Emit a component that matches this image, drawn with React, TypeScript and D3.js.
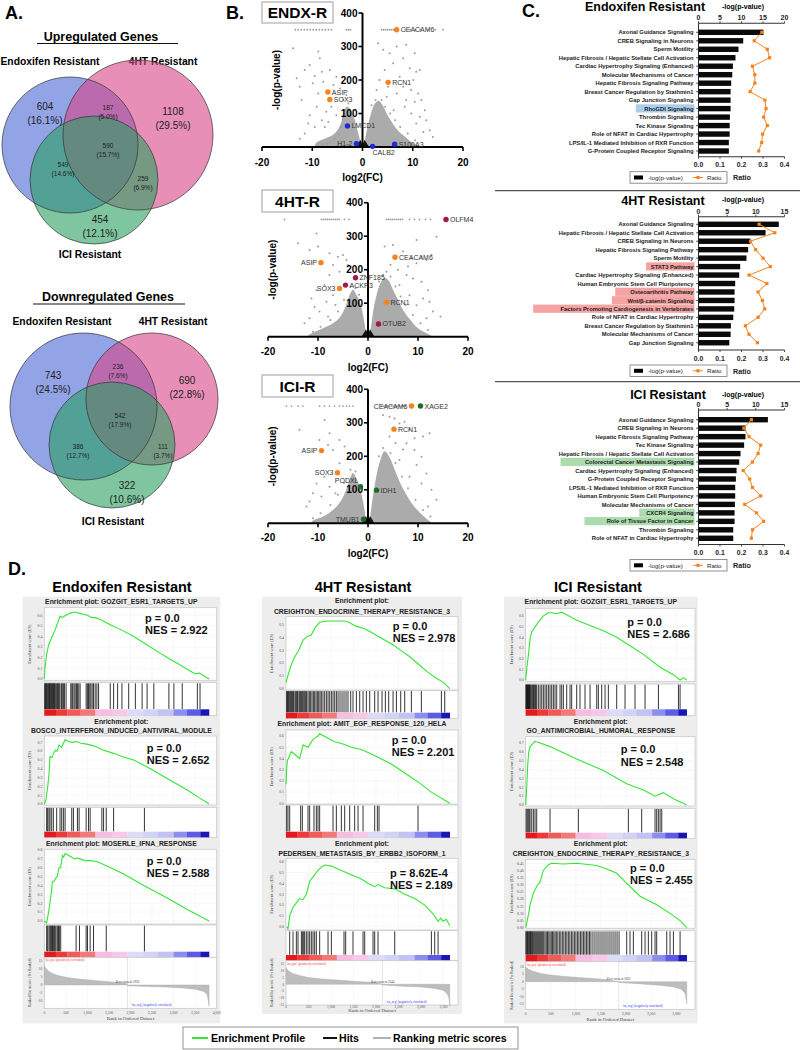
import React from "react";
import * as d3 from "d3";

const SANS = "'Liberation Sans', Arial, Helvetica, sans-serif";
const SERIF = "'Liberation Serif', 'Times New Roman', serif";

/* ================= Panel A : Venn data ================= */
const vennSetNames = ["Endoxifen Resistant", "4HT Resistant", "ICI Resistant"];
const upTitle = "Upregulated Genes";
const downTitle = "Downregulated Genes";
// order: E only, E∩4HT, 4HT only, E∩ICI, all three, 4HT∩ICI, ICI only
const upCounts = [604, 187, 1108, 549, 590, 259, 454];
const upPcts = ["16.1%", "5.0%", "29.5%", "14.6%", "15.7%", "6.9%", "12.1%"];
const downCounts = [743, 236, 690, 386, 542, 111, 322];
const downPcts = ["24.5%", "7.6%", "22.8%", "12.7%", "17.9%", "3.7%", "10.6%"];

/* ================= Panel B : Volcano data ================= */
const volcanoNames = ["ENDX-R", "4HT-R", "ICI-R"];
const volXTicks = [-20, -10, 0, 10, 20];
const volYTicks = [100, 200, 300, 400];

const endxPoints = [
  [-13.1, 205], [-13.8, 295], [-8.8, 285], [-8.5, 265], [-12.5, 180], [-11.5, 230], [-10.5, 245], [-9.9, 190],
  [-9.5, 212], [-8.1, 225], [-7.8, 195], [-8.8, 160], [-6.5, 230], [-5.8, 185], [-5.2, 210], [-4.5, 175],
  [-6.2, 120], [-7.2, 105], [-9.1, 120], [-10.5, 95], [-10.8, 70], [-9.5, 60], [-8.1, 80], [-3.8, 140],
  [-3.5, 110], [-5.2, 95], [-12.1, 140], [-3.2, 155], [-7.5, 60], [-6.8, 75], [-11.5, 40], [-12.5, 25],
  [-4.8, 40], [-5.5, 25], [-6.5, 15], [-3.9, 85], [-2.8, 130], [-1.8, 110], [-4.2, 60], [-7, 10], [-8, 8],
  [3.1, 310], [4.1, 290], [5.4, 280], [6.8, 300], [8.7, 305], [10.4, 280], [8.1, 265], [6.1, 250],
  [4.4, 230], [9.4, 235], [10.7, 225], [11.4, 230], [10.1, 200], [7.4, 210], [8.1, 180], [9.7, 170],
  [11.1, 160], [11.7, 140], [10.4, 135], [8.7, 140], [6.8, 160], [5.1, 180], [3.4, 200], [2.8, 170],
  [12.4, 110], [11.4, 90], [10.7, 70], [12.7, 80], [9.7, 100], [8.4, 120], [13.4, 50], [14, 30], [12.1, 45],
  [3.8, 140], [4.5, 120], [5.5, 100], [6.5, 80], [7.5, 60], [9, 40], [10.5, 20], [2.6, 140], [1.8, 125], [4.8, 150], [6.2, 110],
];
const endxCapL = [-13.4, -12.8, -12.2, -11.6, -11, -10.4, -9.8, -9.2, -8.6, -8, -7.4, -6.8, -6.2, -3.2, -2.8, -2.4];
const endxCapR = [3.8, 4.2, 4.6, 5, 5.4, 5.8, 6.2, 6.6, 7, 8.5, 9.5, 10.5, 11.5, 13, 14.5, 16];
const endxDenseL = [[-0.2, 0], [-0.5, 20], [-1, 50], [-1.5, 80], [-2, 100], [-2.5, 115], [-3.2, 120], [-3.8, 100], [-4.3, 70], [-5, 50], [-6, 35], [-7.5, 25], [-9, 15], [-9.5, 5], [-9, 0]];
const endxDenseR = [[0.3, 0], [0.6, 30], [1, 60], [1.5, 90], [2, 115], [2.5, 130], [3.2, 138], [4, 125], [5, 95], [6, 70], [7, 50], [8.5, 30], [10, 12], [11, 3], [11, 0]];
const endxGenes = [["CEACAM6", 6.8, 350], ["RCN1", 5.1, 193], ["ASIP", -6.9, 164], ["SOX3", -6.5, 142], ["LMCD1", -3.0, 63], ["H1-2", -1.2, 10], ["CALB2", 2.0, 2], ["S100A3", 6.4, 8]];
const endxGeneColors = ["#f7821e", "#f7821e", "#f7821e", "#f7821e", "#1d2bd6", "#1d2bd6", "#1d2bd6", "#1d2bd6"];

const htPoints = [
  [-10.3, 308], [-14, 279], [-11.7, 259], [-10, 269], [-7.7, 249], [-7, 214], [-6, 239], [-5, 244], [-4.3, 229],
  [-4, 214], [-7.7, 184], [-8.7, 154], [-5.7, 194], [-10.3, 139], [-11.3, 114], [-10.7, 89], [-9.7, 75],
  [-8.3, 104], [-7, 124], [-11.7, 55], [-12.7, 40], [-6.5, 95], [-8, 60],
  [-3.5, 150], [-2.5, 145], [-4.8, 110], [-6, 75], [-7.5, 50], [-9.5, 30], [-11, 15], [-1.8, 125],
  [3.3, 269], [5, 274], [7, 254], [8.7, 234], [9.7, 219], [10.7, 239], [11.7, 229], [12.7, 244], [13.7, 298],
  [9.7, 289], [7.7, 184], [9, 174], [10.7, 164], [12, 139], [11, 114], [9.7, 94], [8.3, 124], [6.3, 154],
  [3.7, 194], [12.3, 104], [13, 75], [11.7, 55], [4.5, 215], [6, 200], [8, 210], [14.5, 60],
  [3, 185], [4.5, 180], [5.5, 150], [6.5, 120], [7.5, 95], [9, 65], [10.5, 40], [12, 20], [2.2, 165],
];
const htCapL = [-16.7, -9.3, -8.9, -8.5, -8.1, -7.7, -7.3, -6.9, -6.5, -6.1, -5.7, -4.7, -3.8];
const htCapR = [3.7, 4.1, 4.5, 4.9, 5.3, 5.7, 6.1, 6.5, 6.9, 8.3, 9.3, 10.3, 11.5, 12.5];
const htDenseL = [[-0.3, 0], [-0.7, 40], [-1.2, 80], [-1.8, 110], [-2.5, 130], [-3, 140], [-3.8, 120], [-4.5, 90], [-5.5, 60], [-7, 40], [-9, 25], [-11, 12], [-12, 3], [-12, 0]];
const htDenseR = [[0.3, 0], [0.7, 40], [1.2, 90], [1.8, 130], [2.5, 160], [3.2, 175], [4, 170], [5, 140], [6, 110], [7, 80], [8.5, 50], [10, 25], [12, 8], [13, 0]];
const htGenes = [["OLFM4", 15.6, 350], ["CEACAM6", 5.4, 237], ["ASIP", -9.4, 221], ["ZNF185", -2.5, 176], ["ACKR3", -4.5, 154], ["SOX3", -5.7, 144], ["RCN1", 3.7, 103], ["OTUB2", 2.1, 38]];
const htGeneColors = ["#a3174f", "#f7821e", "#f7821e", "#a3174f", "#a3174f", "#f7821e", "#f7821e", "#a3174f"];

const iciPoints = [
  [-13.7, 279], [-8.7, 308], [-7.7, 269], [-9.7, 249], [-8, 234], [-7, 219], [-5.7, 249], [-4.7, 229], [-4, 199],
  [-5.7, 179], [-8.7, 139], [-10.3, 119], [-11, 90], [-9.3, 80], [-7.7, 109], [-11.7, 65], [-12.3, 50], [-6.5, 90],
  [-3.5, 160], [-2.5, 155], [-4.8, 120], [-6, 85], [-7.5, 55], [-9.5, 30], [-11, 15],
  [3, 323], [4.3, 318], [5.3, 313], [6.3, 298], [7.3, 303], [8.3, 279], [9.3, 254], [11, 259], [12.3, 269],
  [7.7, 239], [9.3, 219], [10.7, 199], [9.7, 174], [11.7, 149], [10.7, 119], [8.3, 139], [6.3, 189], [4.3, 259],
  [12.7, 100], [13.7, 70], [12, 50], [5.5, 240], [7, 220],
  [3, 225], [4.5, 210], [5.5, 180], [6.8, 140], [8, 105], [9.5, 70], [11, 40], [12.5, 20], [2.2, 200],
];
const iciCapL = [-16.3, -15.3, -14, -13, -9.7, -8.7, -7.7, -6.7, -5.7, -5, -4.3, -3.7, -3];
const iciCapR = [2.7, 3.1, 3.5, 3.9, 4.3, 4.7, 5.1, 5.5, 5.9, 6.3, 6.7, 7.1, 7.5];
const iciDenseL = [[-0.3, 0], [-0.7, 40], [-1.2, 80], [-1.8, 115], [-2.5, 140], [-3, 150], [-3.8, 125], [-4.5, 95], [-5.5, 65], [-7, 40], [-9, 20], [-11, 8], [-11.5, 0]];
const iciDenseR = [[0.3, 0], [0.7, 50], [1.2, 100], [1.8, 150], [2.5, 190], [3.3, 215], [4.2, 200], [5.2, 165], [6.3, 125], [7.5, 90], [9, 55], [10.5, 30], [12, 10], [13, 0]];
const iciGenes = [["CEACAM6", 8.7, 350], ["XAGE2", 10.5, 350], ["RCN1", 5.2, 281], ["ASIP", -9.3, 217], ["SOX3", -6.1, 151], ["PODXL", -1.5, 109], ["IDH1", 1.7, 99], ["TMUB1", -0.9, 12]];
const iciGeneColors = ["#f7821e", "#1e6b22", "#f7821e", "#f7821e", "#f7821e", "#1e6b22", "#1e6b22", "#1e6b22"];
const volCore = [[-1.3, 0], [-0.4, 22], [0, 6], [0.4, 22], [1.3, 0]];

/* ================= Panel C : IPA pathways ================= */
const ipaTitles = ["Endoxifen Resistant", "4HT Resistant", "ICI Resistant"];
const endoPathways = ["Axonal Guidance Signaling", "CREB Signaling in Neurons", "Sperm Motility", "Hepatic Fibrosis / Hepatic Stellate Cell Activation", "Cardiac Hypertrophy Signaling (Enhanced)", "Molecular Mechanisms of Cancer", "Hepatic Fibrosis Signaling Pathway", "Breast Cancer Regulation by Stathmin1", "Gap Junction Signaling", "RhoGDI Signaling", "Thrombin Signaling", "Tec Kinase Signaling", "Role of NFAT in Cardiac Hypertrophy", "LPS/IL-1 Mediated Inhibition of RXR Function", "G-Protein Coupled Receptor Signaling"];
const endoLogP = [15.1, 10.4, 9.3, 8.6, 8.0, 7.85, 7.6, 7.46, 7.46, 7.46, 7.3, 7.25, 7.25, 7.06, 7.06];
const endoRatio = [0.295, 0.259, 0.32, 0.331, 0.251, 0.262, 0.262, 0.24, 0.309, 0.314, 0.303, 0.32, 0.298, 0.294, 0.28];
const endoHighlight = ["RhoGDI Signaling"];

const htPathways = ["Axonal Guidance Signaling", "Hepatic Fibrosis / Hepatic Stellate Cell Activation", "CREB Signaling in Neurons", "Hepatic Fibrosis Signaling Pathway", "Sperm Motility", "STAT3 Pathway", "Cardiac Hypertrophy Signaling (Enhanced)", "Human Embryonic Stem Cell Pluripotency", "Osteoarthritis Pathway", "Wnt/β-catenin Signaling", "Factors Promoting Cardiogenesis in Vertebrates", "Role of NFAT in Cardiac Hypertrophy", "Breast Cancer Regulation by Stathmin1", "Molecular Mechanisms of Cancer", "Gap Junction Signaling"];
const htLogP = [14.0, 11.7, 9.06, 8.66, 8.37, 7.27, 7.1, 6.4, 6.29, 6.29, 6.23, 6.06, 5.65, 5.6, 5.37];
const htRatio = [0.282, 0.355, 0.242, 0.266, 0.3, 0.334, 0.235, 0.318, 0.277, 0.297, 0.308, 0.277, 0.218, 0.235, 0.274];
const htHighlight = ["STAT3 Pathway", "Osteoarthritis Pathway", "Wnt/β-catenin Signaling", "Factors Promoting Cardiogenesis in Vertebrates"];

const iciPathways = ["Axonal Guidance Signaling", "CREB Signaling in Neurons", "Hepatic Fibrosis Signaling Pathway", "Tec Kinase Signaling", "Hepatic Fibrosis / Hepatic Stellate Cell Activation", "Colorectal Cancer Metastasis Signaling", "Cardiac Hypertrophy Signaling (Enhanced)", "G-Protein Coupled Receptor Signaling", "LPS/IL-1 Mediated Inhibition of RXR Function", "Human Embryonic Stem Cell Pluripotency", "Molecular Mechanisms of Cancer", "CXCR4 Signaling", "Role of Tissue Factor in Cancer", "Thrombin Signaling", "Role of NFAT in Cardiac Hypertrophy"];
const iciLogP = [12.1, 8.2, 8.2, 7.96, 7.33, 7.1, 6.64, 6.52, 6.4, 6.4, 6.35, 6.29, 6.29, 6.06, 6.06];
const iciRatio = [0.246, 0.211, 0.235, 0.289, 0.277, 0.251, 0.208, 0.238, 0.251, 0.289, 0.215, 0.269, 0.303, 0.251, 0.246];
const iciHighlight = ["Colorectal Cancer Metastasis Signaling", "CXCR4 Signaling", "Role of Tissue Factor in Cancer"];
const ratioTicks = [0, 0.1, 0.2, 0.3, 0.4];

/* ================= Panel D : GSEA ================= */
const gseaColumnTitles = ["Endoxifen Resistant", "4HT Resistant", "ICI Resistant"];
const c1Names = [["Enrichment plot: GOZGIT_ESR1_TARGETS_UP"], ["Enrichment plot:", "BOSCO_INTERFERON_INDUCED_ANTIVIRAL_MODULE"], ["Enrichment plot: MOSERLE_IFNA_RESPONSE"]];
const c2Names = [["Enrichment plot:", "CREIGHTON_ENDOCRINE_THERAPY_RESISTANCE_3"], ["Enrichment plot: AMIT_EGF_RESPONSE_120_HELA"], ["Enrichment plot:", "PEDERSEN_METASTASIS_BY_ERBB2_ISOFORM_1"]];
const c3Names = [["Enrichment plot: GOZGIT_ESR1_TARGETS_UP"], ["Enrichment plot:", "GO_ANTIMICROBIAL_HUMORAL_RESPONSE"], ["Enrichment plot:", "CREIGHTON_ENDOCRINE_THERAPY_RESISTANCE_3"]];
const c1P = ["0.0", "0.0", "0.0"];
const c1NES = ["2.922", "2.652", "2.588"];
const c2P = ["0.0", "0.0", "8.62E-4"];
const c2NES = ["2.978", "2.201", "2.189"];
const c3P = ["0.0", "0.0", "0.0"];
const c3NES = ["2.686", "2.548", "2.455"];
const datasetSizes = [3823, 3640, 3209];
const zeroCross = [1930, 2144, 1852];

const c1p1ES = [[0, 0], [15, 0.1], [54, 0.23], [100, 0.32], [150, 0.37], [250, 0.46], [330, 0.55], [365, 0.59], [420, 0.58], [500, 0.6], [600, 0.62], [700, 0.63], [800, 0.62], [900, 0.61], [1000, 0.6], [1100, 0.58], [1200, 0.575], [1300, 0.56], [1530, 0.51], [1800, 0.46], [2075, 0.4], [2350, 0.33], [2618, 0.26], [2900, 0.19], [3162, 0.13], [3400, 0.07], [3500, 0.05], [3600, 0.055], [3700, 0.03], [3823, 0]];
const c1p2ES = [[0, 0], [40, 0.05], [80, 0.2], [110, 0.35], [132, 0.54], [180, 0.53], [220, 0.58], [260, 0.61], [300, 0.6], [340, 0.67], [400, 0.64], [482, 0.73], [560, 0.71], [650, 0.7], [750, 0.71], [850, 0.69], [987, 0.68], [1150, 0.66], [1375, 0.61], [1608, 0.575], [1850, 0.53], [2075, 0.5], [2463, 0.4], [2851, 0.29], [3318, 0.16], [3600, 0.07], [3823, 0]];
const c1p3ES = [[0, 0], [54, -0.02], [100, 0.1], [130, 0.2], [171, 0.35], [185, 0.44], [230, 0.45], [260, 0.48], [300, 0.5], [340, 0.6], [380, 0.6], [420, 0.74], [450, 0.72], [482, 0.76], [600, 0.73], [700, 0.7], [754, 0.71], [831, 0.7], [948, 0.68], [1064, 0.68], [1220, 0.67], [1453, 0.62], [1841, 0.53], [2308, 0.4], [2852, 0.26], [3318, 0.13], [3823, 0]];
const c2p1ES = [[0, 0.05], [40, 0.1], [100, 0.17], [180, 0.24], [280, 0.3], [380, 0.38], [470, 0.41], [560, 0.42], [650, 0.48], [750, 0.52], [900, 0.53], [1100, 0.53], [1300, 0.53], [1400, 0.52], [1550, 0.49], [1750, 0.47], [1950, 0.43], [2150, 0.39], [2350, 0.35], [2550, 0.3], [2750, 0.25], [2950, 0.19], [3150, 0.13], [3350, 0.08], [3500, 0.05], [3640, 0]];
const c2p2ES = [[0, 0.17], [15, 0.3], [30, 0.38], [119, 0.46], [304, 0.4], [378, 0.52], [489, 0.5], [600, 0.57], [711, 0.6], [748, 0.62], [1082, 0.55], [1267, 0.53], [1452, 0.5], [1675, 0.48], [1786, 0.46], [2045, 0.41], [2342, 0.35], [2712, 0.25], [2971, 0.18], [3231, 0.1], [3638, 0]];
const c2p3ES = [[15, 0], [44, -0.02], [82, 0.1], [156, 0.18], [230, 0.22], [304, 0.26], [378, 0.25], [452, 0.3], [526, 0.42], [600, 0.46], [711, 0.52], [785, 0.55], [860, 0.57], [1008, 0.56], [1230, 0.52], [1452, 0.48], [1675, 0.44], [1823, 0.4], [1971, 0.37], [2045, 0.39], [2193, 0.36], [2416, 0.35], [2638, 0.3], [2860, 0.26], [3083, 0.2], [3268, 0.12], [3379, 0.05], [3438, 0.08], [3490, 0.05], [3564, 0.07], [3638, 0.01]];
const c3p1ES = [[0, 0], [25, 0.12], [50, 0.22], [86, 0.38], [120, 0.45], [219, 0.52], [352, 0.6], [451, 0.63], [517, 0.63], [617, 0.62], [716, 0.635], [816, 0.61], [1016, 0.56], [1282, 0.51], [1547, 0.46], [1813, 0.4], [2079, 0.32], [2345, 0.24], [2677, 0.12], [2943, 0.05], [3076, 0.0], [3143, 0.02], [3209, 0.0]];
const c3p2ES = [[0, 0], [20, 0.2], [40, 0.45], [60, 0.6], [86, 0.66], [186, 0.72], [286, 0.7], [485, 0.66], [1016, 0.52], [1547, 0.39], [2012, 0.24], [2345, 0.17], [2577, 0.1], [2743, 0.14], [2943, 0.07], [3209, 0]];
const c3p3ES = [[0, 0], [30, 0.05], [60, 0.1], [86, 0.16], [153, 0.24], [219, 0.29], [286, 0.32], [352, 0.4], [452, 0.44], [518, 0.45], [750, 0.445], [1016, 0.45], [1282, 0.44], [1415, 0.435], [1614, 0.41], [1813, 0.38], [2012, 0.31], [2278, 0.22], [2610, 0.16], [2876, 0.1], [3076, 0.05], [3209, 0]];

const c1p1Hits = [10, 25, 40, 55, 70, 90, 105, 120, 135, 150, 170, 185, 200, 215, 235, 250, 270, 290, 310, 325, 345, 365, 400, 427, 450, 466, 505, 614, 640, 660, 690, 715, 745, 769, 800, 831, 971, 1000, 1026, 1055, 1080, 1110, 1142, 1180, 1220, 1259, 1530, 1608, 1701, 1802, 1958, 2113, 2269, 2385, 2541, 2891, 3007, 3201, 3551, 3613];
const c1p2Hits = [54, 78, 109, 132, 171, 210, 287, 365, 404, 443, 482, 637, 676, 769, 808, 971, 1026, 1064, 1336, 1375, 1437, 1608, 2323];
const c1p3Hits = [54, 78, 109, 132, 150, 171, 190, 210, 233, 250, 272, 303, 330, 350, 381, 738, 816, 971, 1002, 1064, 1142, 1437, 2323];
const c2p1Hits = [15, 30, 44, 59, 82, 104, 119, 141, 163, 178, 207, 230, 252, 267, 296, 319, 341, 363, 385, 415, 437, 459, 489, 519, 548, 578, 608, 637, 667, 697, 726, 756, 785, 822, 860, 897, 934, 971, 1008, 1045, 1082, 1119, 1156, 1200, 1245, 1289, 1334, 1378, 1438, 1489, 1564, 1638, 1712, 1786, 1860, 1971, 2045, 2134, 2208, 2282, 2379, 2453, 2549, 2638, 2786, 3008, 3453, 3527];
const c2p2Hits = [15, 44, 82, 326, 363, 489, 526, 622, 674, 711, 748, 1045, 1119, 1230, 1304, 1415, 1526, 1601, 1712, 1971, 2030, 2067, 2934];
const c2p3Hits = [82, 156, 230, 267, 341, 363, 393, 415, 452, 489, 526, 563, 600, 637, 674, 748, 934, 1008, 1289, 1326, 1489, 1712, 1749, 1934, 1971, 2045, 2416, 3231, 3305, 3379];
const c3p1Hits = [5, 15, 25, 35, 45, 55, 65, 75, 86, 100, 120, 140, 153, 170, 186, 200, 219, 252, 286, 319, 352, 385, 418, 452, 485, 518, 551, 584, 618, 684, 717, 750, 817, 883, 916, 1016, 1082, 1182, 1282, 1415, 1448, 1514, 1581, 1647, 1813, 1979, 2178, 2378, 2644, 3043, 3076];
const c3p2Hits = [10, 30, 50, 70, 86, 120, 153, 186, 219, 485, 1049, 2045, 2311, 2577, 2610, 2643, 2677, 2710];
const c3p3Hits = [5, 20, 35, 50, 65, 80, 95, 110, 125, 140, 160, 180, 200, 220, 240, 260, 280, 300, 320, 340, 360, 385, 410, 435, 460, 485, 510, 535, 560, 585, 610, 640, 670, 700, 730, 760, 790, 820, 850, 880, 910, 940, 970, 1000, 1030, 1060, 1090, 1120, 1150, 1180, 1210, 1240, 1270, 1300, 1340, 1380, 1420, 1460, 1500, 1540, 1580, 1620, 1660, 1700, 1740, 1780, 1820, 1860, 2012, 2078, 2145, 2311, 2378, 2444, 2510, 2577, 2610, 2810, 2876, 2943, 3076];

const c1Ranked = [[0, 12], [30, 10.5], [100, 8.5], [200, 7], [300, 6], [500, 4.8], [700, 4], [1000, 3.2], [1300, 2.5], [1600, 1.8], [1900, 1.1], [1930, 0], [1935, -0.5], [2400, -0.9], [2800, -1.3], [3200, -1.8], [3500, -2.6], [3700, -4], [3780, -6], [3823, -13]];
const c2Ranked = [[0, 12], [50, 10], [150, 8], [300, 6.5], [500, 5], [800, 4], [1200, 3], [1600, 2], [2000, 1.3], [2144, 0], [2150, -0.5], [2600, -1.5], [3000, -2], [3300, -3], [3500, -4.5], [3580, -7], [3620, -10], [3640, -16]];
const c3Ranked = [[0, 10], [50, 8.5], [150, 7], [300, 5.5], [500, 4.5], [800, 3.5], [1200, 2.5], [1600, 1.5], [1852, 0], [1860, -0.5], [2300, -1.5], [2700, -2.5], [2950, -3.5], [3100, -5], [3180, -8], [3209, -15]];

const barColors = ["#e3191c", "#ec3a3a", "#f05a5a", "#f37878", "#f7bde0", "#f9c8e8", "#dcdcf8", "#d2d2f6", "#c2c2f4", "#8d8df0", "#5b5be4", "#1a16b4"];
const barStops = [0, 0.07, 0.14, 0.22, 0.31, 0.41, 0.504, 0.6, 0.687, 0.785, 0.866, 0.947, 1.0];
const legendItems = ["Enrichment Profile", "Hits", "Ranking metric scores"];
const legendColors = ["#33e633", "#111111", "#999999"];

/* ================= Components ================= */
const VENN_FILLS = ["#4a66d6", "#d84588", "#2aa060"];

function Venn({ title, counts, pcts, L }) {
  return (
    <g>
      <text x={L.title[0]} y={L.title[1]} textAnchor="middle" fontSize={12.5} fontWeight="bold">{title}</text>
      <line x1={L.ul[0]} x2={L.ul[1]} y1={L.title[1] + 3} y2={L.title[1] + 3} stroke="#111" strokeWidth={1} />
      {vennSetNames.map((n, i) => (
        <text key={n} x={L.names[i][0]} y={L.names[i][1]} textAnchor="middle" fontSize={10.3} fontWeight="bold">{n}</text>
      ))}
      {L.circles.map((c, i) => (
        <circle key={"f" + i} cx={c[0]} cy={c[1]} r={c[2]} fill={VENN_FILLS[i]} fillOpacity={0.6} />
      ))}
      {L.circles.map((c, i) => (
        <circle key={"s" + i} cx={c[0]} cy={c[1]} r={c[2]} fill="none" stroke="#333" strokeWidth={0.7} />
      ))}
      {counts.map((n, i) => {
        const [x, y, big] = L.labels[i];
        const fs = big ? 10 : 6.5;
        return (
          <g key={i} fill="#222">
            <text x={x} y={y} textAnchor="middle" fontSize={fs}>{n}</text>
            <text x={x} y={y + (big ? 13.5 : 8.8)} textAnchor="middle" fontSize={fs}>({pcts[i]})</text>
          </g>
        );
      })}
    </g>
  );
}

function Volcano({ L, name, pts, capL, capR, denseL, denseR, genes, colors, sides }) {
  const x = d3.scaleLinear().domain([-20, 20]).range([L.x0, L.x1]);
  const y = d3.scaleLinear().domain([0, 400]).range([L.y0, L.y1]);
  const poly = d3.line().x((d) => x(d[0])).y((d) => y(d[1])).curve(d3.curveCatmullRom);
  const ax = x(0);
  return (
    <g>
      <rect x={L.box[0]} y={L.box[1]} width={L.box[2]} height={L.box[3]} fill="#fff" stroke="#b5b5b5" strokeWidth={1.3} />
      <text x={L.box[0] + L.box[2] / 2} y={L.box[1] + L.box[3] / 2 + 5.5} textAnchor="middle" fontSize={15.5} fontWeight="bold">{name}</text>
      <path d={poly(denseL) + "Z"} fill="#ababab" />
      <path d={poly(denseR) + "Z"} fill="#ababab" />
      {pts.map((p, i) => <circle key={i} cx={x(p[0])} cy={y(p[1])} r={1} fill="#9c9c9c" />)}
      {capL.concat(capR).map((v, i) => <circle key={"c" + i} cx={x(v)} cy={y(350)} r={0.9} fill="#9c9c9c" />)}
      <path d={d3.line().x((d) => x(d[0])).y((d) => y(d[1]))(volCore) + "Z"} fill="#111" />
      {/* axes */}
      <line x1={x(-20)} x2={x(20)} y1={y(0)} y2={y(0)} stroke="#000" strokeWidth={2} />
      <line x1={ax} x2={ax} y1={y(0)} y2={y(400)} stroke="#000" strokeWidth={2} />
      {volXTicks.map((t) => (
        <g key={t}>
          <line x1={x(t)} x2={x(t)} y1={y(0)} y2={y(0) + 4} stroke="#000" strokeWidth={1.6} />
          <text x={x(t)} y={L.tickY} textAnchor="middle" fontSize={10} fontWeight="bold">{t}</text>
        </g>
      ))}
      {volYTicks.map((t) => (
        <g key={t}>
          <line x1={ax - 4} x2={ax} y1={y(t)} y2={y(t)} stroke="#000" strokeWidth={1.6} />
          <text x={ax - 5} y={y(t) + 3.6} textAnchor="end" fontSize={10} fontWeight="bold">{t}</text>
        </g>
      ))}
      <text x={ax} y={L.labY} textAnchor="middle" fontSize={10} fontWeight="bold">log2(FC)</text>
      <text transform={`translate(${L.ylabX},${(L.y0 + L.y1) / 2}) rotate(-90)`} textAnchor="middle" fontSize={10} fontWeight="bold">-log(p-value)</text>
      {genes.map((g, i) => {
        const gx = x(g[1]), gy = y(g[2]);
        const s = sides[i];
        let tx = gx + 4, ty = gy + 2.5, anchor = "start";
        if (s === "l") { tx = gx - 4; anchor = "end"; }
        if (s === "b") { tx = gx; ty = gy + 9; }
        if (s === "ul") { tx = gx - 2; ty = gy - 4; anchor = "end"; }
        return (
          <g key={g[0]}>
            <circle cx={gx} cy={gy} r={2.7} fill={colors[i]} />
            <text x={tx} y={ty} textAnchor={anchor} fontSize={7} fill="#333">{g[0]}</text>
          </g>
        );
      })}
    </g>
  );
}

const IPA_X0 = 698.5, IPA_X1 = 784.5;
function IPAChart({ S, title, names, logp, ratio, hl, hlColor, pMax }) {
  const xp = d3.scaleLinear().domain([0, pMax]).range([IPA_X0, IPA_X1]);
  const xr = d3.scaleLinear().domain([0, 0.4]).range([IPA_X0, IPA_X1]);
  const yRow = (i) => S.row0 + i * S.step;
  const pTicks = d3.range(0, pMax + 0.1, 5);
  const rl = d3.line().x((d) => xr(d)).y((d, i) => yRow(i));
  const fs = 5.8;
  return (
    <g>
      <text x={S.titleX} y={S.titleY} textAnchor="middle" fontSize={12.5} fontWeight="bold">{title}</text>
      <text x={743} y={S.labY} textAnchor="middle" fontSize={7} fontWeight="bold">-log(p-value)</text>
      <line x1={IPA_X0} x2={IPA_X1} y1={S.top} y2={S.top} stroke="#333" strokeWidth={1.1} />
      {pTicks.map((t) => (
        <g key={t}>
          <line x1={xp(t)} x2={xp(t)} y1={S.top} y2={S.top - 2} stroke="#333" strokeWidth={0.9} />
          <text x={xp(t)} y={S.top - 3.2} textAnchor="middle" fontSize={7} fontWeight="bold" fill="#222">{t}</text>
        </g>
      ))}
      <line x1={IPA_X0} x2={IPA_X0} y1={S.top} y2={S.bottom} stroke="#333" strokeWidth={1.1} />
      <line x1={IPA_X0} x2={IPA_X1} y1={S.bottom} y2={S.bottom} stroke="#333" strokeWidth={1.1} />
      {ratioTicks.map((t) => (
        <g key={t}>
          <line x1={xr(t)} x2={xr(t)} y1={S.bottom} y2={S.bottom + 2} stroke="#333" strokeWidth={0.9} />
          <text x={xr(t)} y={S.bottom + 10.5} textAnchor="middle" fontSize={6.8} fontWeight="bold" fill="#222">{t.toFixed(1)}</text>
        </g>
      ))}
      {names.map((n, i) => {
        const isHl = hl.includes(n);
        const w = n.length * 3.42 + 4;
        return (
          <g key={n}>
            {isHl && <rect x={694.5 - w} y={yRow(i) - 4.3} width={w} height={8.2} fill={hlColor} />}
            <text x={693.5} y={yRow(i) + 2.1} textAnchor="end" fontSize={fs} fontWeight="bold" fill="#222">{n}</text>
            <line x1={IPA_X0 - 2.5} x2={IPA_X0} y1={yRow(i)} y2={yRow(i)} stroke="#333" strokeWidth={0.8} />
            <rect x={IPA_X0} y={yRow(i) - 2.7} width={xp(logp[i]) - IPA_X0} height={5.4} fill="#0a0a0a" />
          </g>
        );
      })}
      <path d={rl(ratio)} fill="none" stroke="#f7821e" strokeWidth={1} />
      {ratio.map((r, i) => <rect key={i} x={xr(r) - 1.6} y={yRow(i) - 1.6} width={3.2} height={3.2} fill="#f7821e" />)}
      {/* legend */}
      <rect x={630} y={S.legY} width={97} height={11.5} fill="#fff" stroke="#777" strokeWidth={0.8} />
      <rect x={634} y={S.legY + 3.8} width={9} height={4} fill="#000" />
      <text x={648} y={S.legY + 8.2} fontSize={6.2} fill="#222">-log(p-value)</text>
      <line x1={693} x2={703} y1={S.legY + 5.8} y2={S.legY + 5.8} stroke="#f7821e" strokeWidth={1} />
      <rect x={696.4} y={S.legY + 4.2} width={3.2} height={3.2} fill="#f7821e" />
      <text x={707} y={S.legY + 8.2} fontSize={6.2} fill="#222">Ratio</text>
      <text x={733} y={S.legY + 8.5} fontSize={7.2} fontWeight="bold" fill="#222">Ratio</text>
      {S.sep && <line x1={495} x2={800} y1={S.sep} y2={S.sep} stroke="#555" strokeWidth={1.2} />}
    </g>
  );
}

const GREEN = "#33e633";
function GseaColumn({ C }) {
  const x = d3.scaleLinear().domain([0, C.rankMax]).range([C.bx0, C.bx1]);
  const cx = C.panel[0] + C.panel[2] / 2;
  const gridX = d3.range(500, C.rankMax, 500);
  const R = C.ranked;
  const yr = d3.scaleLinear().domain(R.dom).range([R.y[1], R.y[0]]);
  const area = d3.area().x((d) => x(d[0])).y0(yr(0)).y1((d) => yr(d[1]));
  const bw = C.bx1 - C.bx0;
  const fmt = d3.format(",");
  return (
    <g>
      <text x={C.titleX} y={C.titleY} textAnchor="middle" fontSize={14.5} fontWeight="bold">{C.title}</text>
      <rect x={C.panel[0]} y={C.panel[1]} width={C.panel[2]} height={C.panel[3]} fill="#ededed" />
      {C.plots.map((P, k) => {
        const y = d3.scaleLinear().domain(P.dom).range([P.es[1], P.es[0]]);
        const line = d3.line().x((d) => x(d[0])).y((d) => y(d[1]));
        return (
          <g key={k}>
            {P.title.map((t, j) => (
              <text key={j} x={cx} y={P.ty[j]} textAnchor="middle" fontSize={6.8} fontWeight="bold" fill="#222">{t}</text>
            ))}
            <rect x={C.bx0} y={P.es[0]} width={bw} height={P.es[1] - P.es[0]} fill="#fff" stroke="#c4c4c4" strokeWidth={0.7} />
            {gridX.map((g) => <line key={g} x1={x(g)} x2={x(g)} y1={P.es[0]} y2={P.es[1]} stroke="#efefef" strokeWidth={0.5} />)}
            {P.ticks.map((t) => (
              <g key={t}>
                <line x1={C.bx0} x2={C.bx1} y1={y(t)} y2={y(t)} stroke="#efefef" strokeWidth={0.5} />
                <text x={C.bx0 - 2} y={y(t) + 1.3} textAnchor="end" fontSize={3.8} fontFamily={SERIF} fill="#555">{t.toFixed(P.dec)}</text>
              </g>
            ))}
            <text transform={`translate(${C.bx0 - 13},${(P.es[0] + P.es[1]) / 2}) rotate(-90)`} textAnchor="middle" fontSize={4.3} fontFamily={SERIF} fill="#444">Enrichment score (ES)</text>
            <path d={line(P.curve)} fill="none" stroke={GREEN} strokeWidth={1.1} />
            <text x={P.px} y={P.py} fontSize={11} fontWeight="bold" fill="#111">p = {P.p}</text>
            <text x={P.px} y={P.py + 12.3} fontSize={11} fontWeight="bold" fill="#111">NES = {P.nes}</text>
            <rect x={C.bx0} y={P.hits[0]} width={bw} height={P.bar[1] - P.hits[0]} fill="#fff" stroke="#c4c4c4" strokeWidth={0.7} />
            {P.hitList.map((h, i) => (
              <line key={i} x1={x(h)} x2={x(h)} y1={P.hits[0] + 0.6} y2={P.hits[1] - 0.3} stroke="#111" strokeWidth={0.85} />
            ))}
            {barColors.map((c, i) => (
              <rect key={i} x={x(barStops[i] * C.n)} y={P.bar[0]} width={x(barStops[i + 1] * C.n) - x(barStops[i] * C.n) + 0.2} height={P.bar[1] - P.bar[0]} fill={c} />
            ))}
          </g>
        );
      })}
      {/* ranked list */}
      <rect x={C.bx0} y={R.y[0]} width={bw} height={R.y[1] - R.y[0]} fill="#fff" stroke="#c4c4c4" strokeWidth={0.7} />
      {gridX.map((g) => <line key={g} x1={x(g)} x2={x(g)} y1={R.y[0]} y2={R.y[1]} stroke="#efefef" strokeWidth={0.5} />)}
      <path d={area(R.data)} fill="#bdbdbd" stroke="#a8a8a8" strokeWidth={0.4} />
      <line x1={x(C.zero)} x2={x(C.zero)} y1={R.y[0]} y2={R.y[1]} stroke="#999" strokeWidth={0.5} strokeDasharray="1,1" />
      {R.ticks.map((t) => (
        <text key={t} x={C.bx0 - 2} y={yr(t) + 1.2} textAnchor="end" fontSize={3.6} fontFamily={SERIF} fill="#555">{t}</text>
      ))}
      <text transform={`translate(${C.bx0 - 13},${(R.y[0] + R.y[1]) / 2}) rotate(-90)`} textAnchor="middle" fontSize={3.9} fontFamily={SERIF} fill="#444">Ranked list metric (PreRanked)</text>
      <text x={C.bx0 + 1} y={R.y[0] + 3.8} fontSize={3.2} fontFamily={SERIF} fill="#ff2a2a">'na_pos' (positively correlated)</text>
      <text x={x(C.zero)} y={yr(0) - 1.5} textAnchor="middle" fontSize={3.2} fontFamily={SERIF} fill="#333">Zero cross at {C.zero}</text>
      <text x={x(C.zero) + 4} y={R.y[1] - 2.5} fontSize={3.2} fontFamily={SERIF} fill="#2a2aff">'na_neg' (negatively correlated)</text>
      {C.xTicks.map((t) => (
        <text key={t} x={x(t)} y={C.xLabY} textAnchor="middle" fontSize={3.6} fontFamily={SERIF} fill="#555">{fmt(t)}</text>
      ))}
      <text x={(C.bx0 + C.bx1) / 2} y={C.xTitleY} textAnchor="middle" fontSize={4.8} fontFamily={SERIF} fill="#444">Rank in Ordered Dataset</text>
    </g>
  );
}

/* ================= Layouts ================= */
const upLayout = {
  title: [101, 40.5], ul: [37, 178], names: [[50, 65], [163, 65], [90, 258]],
  circles: [[70, 145, 68], [138, 135, 75], [94, 180, 64]],
  labels: [[45, 110, 1], [108, 110, 0], [173, 115, 1], [63, 167, 0], [108, 148, 0], [143, 181, 0], [100, 223, 1]],
};
const downLayout = {
  title: [108, 301], ul: [33, 185], names: [[62, 325], [173, 325], [113, 525]],
  circles: [[83.5, 406.5, 73.5], [152, 399, 66], [112, 445, 63]],
  labels: [[53, 379, 1], [118, 369, 0], [187, 384, 1], [78, 449, 0], [120, 418, 0], [163, 449, 0], [127, 489, 1]],
};
const volLayouts = [
  { x0: 262, x1: 463, y0: 147, y1: 13, box: [262, 2, 71, 21], tickY: 165.5, labY: 181, ylabX: 280 },
  { x0: 268, x1: 468, y0: 336.7, y1: 202.7, box: [262, 190, 71, 22], tickY: 354.5, labY: 371, ylabX: 276 },
  { x0: 268, x1: 468, y0: 523.3, y1: 389.3, box: [262, 375, 71, 22], tickY: 541, labY: 557, ylabX: 276 },
];
const volSides = [
  ["r", "r", "r", "r", "r", "l", "b", "r"],
  ["r", "r", "l", "r", "r", "l", "r", "r"],
  ["l", "r", "r", "l", "l", "ul", "r", "l"],
];
const ipaLayouts = [
  { titleX: 645, titleY: 10.5, labY: 8.5, top: 23.3, row0: 32.3, step: 8.48, bottom: 156.7, legY: 171.7, sep: 190.7 },
  { titleX: 663, titleY: 204.5, labY: 202, top: 216.7, row0: 224.3, step: 8.46, bottom: 350, legY: 365, sep: 381.7 },
  { titleX: 668, titleY: 399, labY: 396.5, top: 410, row0: 419.7, step: 8.47, bottom: 544.5, legY: 559.5, sep: 0 },
];

const esTicks = (top, step) => d3.range(0, top + step / 2, step);

const gseaCols = [
  {
    title: gseaColumnTitles[0], titleX: 122, titleY: 592, panel: [22.7, 596.7, 197.3, 426.6],
    bx0: 44.3, bx1: 216.7, rankMax: 4000, n: datasetSizes[0], zero: zeroCross[0],
    xTicks: d3.range(0, 4001, 500), xLabY: 1014, xTitleY: 1020,
    ranked: { y: [957.3, 1008.3], dom: [-14.4, 17.1], data: c1Ranked, ticks: [15, 10, 5, 0, -5, -10] },
    plots: [
      { title: c1Names[0], ty: [604], es: [607.7, 680.7], dom: [-0.016, 0.671], ticks: esTicks(0.6, 0.1), dec: 1, curve: c1p1ES, hitList: c1p1Hits, hits: [682.7, 709.3], bar: [709.3, 715.7], p: c1P[0], nes: c1NES[0], px: 145, py: 621.7 },
      { title: c1Names[1], ty: [723.5, 732.5], es: [736, 805], dom: [-0.011, 0.772], ticks: esTicks(0.7, 0.1), dec: 1, curve: c1p2ES, hitList: c1p2Hits, hits: [807.3, 831.7], bar: [831.7, 837.3], p: c1P[1], nes: c1NES[1], px: 146.7, py: 751.7 },
      { title: c1Names[2], ty: [845.7], es: [849.3, 924], dom: [-0.034, 0.808], ticks: esTicks(0.8, 0.1), dec: 1, curve: c1p3ES, hitList: c1p3Hits, hits: [925, 951.7], bar: [951.7, 957.3], p: c1P[2], nes: c1NES[2], px: 146.7, py: 865 },
    ],
  },
  {
    title: gseaColumnTitles[1], titleX: 363, titleY: 592, panel: [262, 596.7, 200, 417.3],
    bx0: 286, bx1: 458, rankMax: 3822, n: datasetSizes[1], zero: zeroCross[1],
    xTicks: d3.range(0, 3501, 500), xLabY: 1007.5, xTitleY: 1012,
    ranked: { y: [960.7, 1005], dom: [-15.25, 17.4], data: c2Ranked, ticks: [15, 10, 5, 0, -5, -10, -15] },
    plots: [
      { title: c2Names[0], ty: [603, 613.5], es: [616.7, 690], dom: [-0.01, 0.564], ticks: esTicks(0.5, 0.1), dec: 1, curve: c2p1ES, hitList: c2p1Hits, hits: [690.5, 712.7], bar: [712.7, 718.3], p: c2P[0], nes: c2NES[0], px: 392.7, py: 630 },
      { title: c2Names[1], ty: [726], es: [730, 804], dom: [-0.006, 0.654], ticks: esTicks(0.6, 0.1), dec: 1, curve: c2p2ES, hitList: c2p2Hits, hits: [805, 831.7], bar: [831.7, 837.7], p: c2P[1], nes: c2NES[1], px: 391.7, py: 744 },
      { title: c2Names[2], ty: [845.6, 855.6], es: [858.3, 930], dom: [-0.03, 0.632], ticks: esTicks(0.6, 0.1), dec: 1, curve: c2p3ES, hitList: c2p3Hits, hits: [930.7, 955], bar: [955, 960.7], p: c2P[2], nes: c2NES[2], px: 390, py: 876.7 },
    ],
  },
  {
    title: gseaColumnTitles[2], titleX: 598, titleY: 592, panel: [504, 596.7, 193.7, 426.6],
    bx0: 525.7, bx1: 695, rankMax: 3373, n: datasetSizes[2], zero: zeroCross[2],
    xTicks: d3.range(0, 3001, 500), xLabY: 1014.5, xTitleY: 1021,
    ranked: { y: [961.7, 1009.3], dom: [-18.5, 13.4], data: c3Ranked, ticks: [10, 5, 0, -5, -10, -15] },
    plots: [
      { title: c3Names[0], ty: [604], es: [608.3, 681.7], dom: [-0.016, 0.671], ticks: esTicks(0.6, 0.1), dec: 1, curve: c3p1ES, hitList: c3p1Hits, hits: [684, 709.3], bar: [709.3, 715.7], p: c3P[0], nes: c3NES[0], px: 627.3, py: 626 },
      { title: c3Names[1], ty: [723.5, 733], es: [736.7, 806], dom: [-0.011, 0.772], ticks: esTicks(0.7, 0.1), dec: 1, curve: c3p2ES, hitList: c3p2Hits, hits: [808.3, 832.7], bar: [832.7, 838.3], p: c3P[1], nes: c3NES[1], px: 620.7, py: 753.3 },
      { title: c3Names[2], ty: [846.3, 855.6], es: [859.3, 928.3], dom: [-0.004, 0.478], ticks: esTicks(0.45, 0.05), dec: 2, curve: c3p3ES, hitList: c3p3Hits, hits: [930.7, 955], bar: [955, 961.7], p: c3P[2], nes: c3NES[2], px: 630, py: 871.7 },
    ],
  },
];

export default function App() {
  return (
    <svg width={800} height={1050} viewBox="0 0 800 1050" fontFamily={SANS}
      style={{ position: "absolute", left: 0, top: 0, background: "#fff" }}>
      <rect width={800} height={1050} fill="#fff" />
      {/* panel letters */}
      <text x={5} y={19} fontSize={18} fontWeight="bold">A.</text>
      <text x={226} y={19} fontSize={18} fontWeight="bold">B.</text>
      <text x={522} y={17} fontSize={18} fontWeight="bold">C.</text>
      <text x={8} y={575} fontSize={18} fontWeight="bold">D.</text>

      {/* Panel A */}
      <Venn title={upTitle} counts={upCounts} pcts={upPcts} L={upLayout} />
      <Venn title={downTitle} counts={downCounts} pcts={downPcts} L={downLayout} />

      {/* Panel B */}
      <Volcano L={volLayouts[0]} name={volcanoNames[0]} pts={endxPoints} capL={endxCapL} capR={endxCapR} denseL={endxDenseL} denseR={endxDenseR} genes={endxGenes} colors={endxGeneColors} sides={volSides[0]} />
      <Volcano L={volLayouts[1]} name={volcanoNames[1]} pts={htPoints} capL={htCapL} capR={htCapR} denseL={htDenseL} denseR={htDenseR} genes={htGenes} colors={htGeneColors} sides={volSides[1]} />
      <Volcano L={volLayouts[2]} name={volcanoNames[2]} pts={iciPoints} capL={iciCapL} capR={iciCapR} denseL={iciDenseL} denseR={iciDenseR} genes={iciGenes} colors={iciGeneColors} sides={volSides[2]} />

      {/* Panel C */}
      <IPAChart S={ipaLayouts[0]} title={ipaTitles[0]} names={endoPathways} logp={endoLogP} ratio={endoRatio} hl={endoHighlight} hlColor="#a9cdea" pMax={20} />
      <IPAChart S={ipaLayouts[1]} title={ipaTitles[1]} names={htPathways} logp={htLogP} ratio={htRatio} hl={htHighlight} hlColor="#f5a3a3" pMax={15} />
      <IPAChart S={ipaLayouts[2]} title={ipaTitles[2]} names={iciPathways} logp={iciLogP} ratio={iciRatio} hl={iciHighlight} hlColor="#acdcad" pMax={15} />

      {/* Panel D */}
      {gseaCols.map((C, i) => <GseaColumn key={i} C={C} />)}

      {/* D legend */}
      <rect x={183} y={1027} width={335} height={22} fill="#fff" stroke="#888" strokeWidth={0.9} />
      <line x1={192} x2={208} y1={1038} y2={1038} stroke={legendColors[0]} strokeWidth={2} />
      <text x={211} y={1042} fontSize={10.6} fontWeight="bold">{legendItems[0]}</text>
      <line x1={323} x2={337} y1={1038} y2={1038} stroke={legendColors[1]} strokeWidth={2} />
      <text x={339} y={1042} fontSize={10.6} fontWeight="bold">{legendItems[1]}</text>
      <line x1={373} x2={391} y1={1038} y2={1038} stroke={legendColors[2]} strokeWidth={1.5} />
      <text x={393} y={1042} fontSize={10.6} fontWeight="bold">{legendItems[2]}</text>
    </svg>
  );
}
